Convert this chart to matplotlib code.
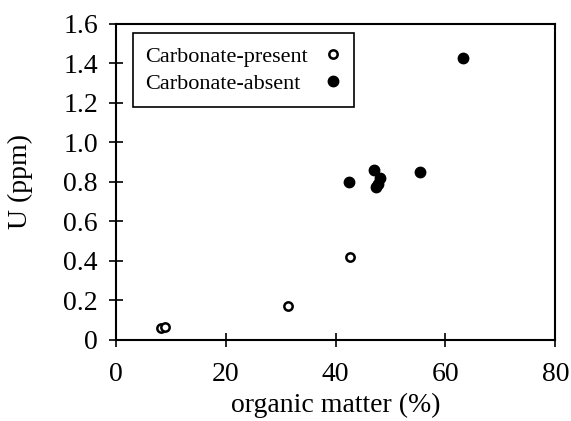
import matplotlib
matplotlib.use('Agg')
import matplotlib.pyplot as plt

# carbonate-present samples
om_present = [8.2, 9.0, 31.4, 42.7]
u_present = [0.06, 0.068, 0.17, 0.42]

# carbonate-absent samples
om_absent = [42.4, 47.0, 48.0, 47.8, 47.3, 55.3, 63.1]
u_absent = [0.80, 0.86, 0.82, 0.79, 0.775, 0.85, 1.43]

xticks = [0, 20, 40, 60, 80]
yticks = [0, 0.2, 0.4, 0.6, 0.8, 1.0, 1.2, 1.4, 1.6]
ytick_labels = ['0', '0.2', '0.4', '0.6', '0.8', '1.0', '1.2', '1.4', '1.6']

plt.rcParams['font.family'] = 'Liberation Serif'

fig = plt.figure(figsize=(5.71, 4.21), dpi=100)
ax = fig.add_axes([0.2032, 0.1924, 0.7693, 0.7506])

ax.plot(om_present, u_present, 'o', mfc='white', mec='black', ms=6, mew=1.8,
        label='Carbonate-present', clip_on=False)
ax.plot(om_absent, u_absent, 'o', color='black', ms=7.5,
        label='Carbonate-absent', clip_on=False)

ax.set_xlim(0, 80)
ax.set_ylim(0, 1.6)
ax.set_xticks(xticks)
ax.set_xticklabels([str(v) for v in xticks])
ax.set_yticks(yticks)
ax.set_yticklabels(ytick_labels)
ax.tick_params(direction='inout', length=10, width=1.2, labelsize=20)
ax.tick_params(axis='x', pad=11)
ax.tick_params(axis='y', pad=8)
for s in ax.spines.values():
    s.set_linewidth(1.5)

ax.set_xlabel('organic matter (%)', fontsize=20, labelpad=4)
ax.set_ylabel('U (ppm)', fontsize=20, labelpad=22)

sep = 11
leg = ax.legend(loc='upper left', bbox_to_anchor=(0.038, 0.9706), borderaxespad=0,
                markerfirst=False, fontsize=16, handlelength=0.8, handletextpad=sep / 16,
                borderpad=0.58, labelspacing=0.3, fancybox=False, framealpha=1,
                edgecolor='black')
leg.get_frame().set_linewidth(1.2)

# text left-aligned, markers in one column on the right
fig.canvas.draw()
r = fig.canvas.get_renderer()
texts = leg.get_texts()
widths = [t.get_window_extent(r).width for t in texts]
col = leg._legend_handle_box.get_children()[0]
col.align = 'left'
for item, w in zip(col.get_children(), widths):
    item.sep = sep + (max(widths) - w) * 72 / fig.dpi

fig.savefig('out.png', dpi=100)
